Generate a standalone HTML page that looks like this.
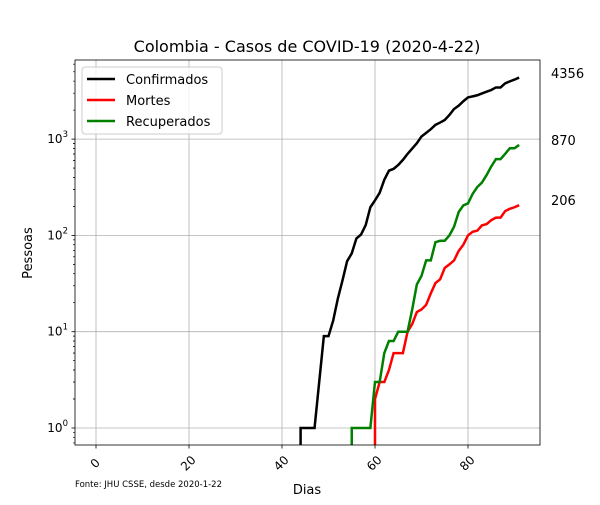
<!DOCTYPE html>
<html><head><meta charset="utf-8"><style>
body{margin:0;background:#fff;font-family:"Liberation Sans","DejaVu Sans",sans-serif}
svg text{font-family:"DejaVu Sans","Liberation Sans",sans-serif}
</style></head><body>
<svg id="c" width="600" height="500" xmlns="http://www.w3.org/2000/svg"></svg>
<script>
const confDays=[43,44,45,46,47,48,49,50,51,52,53,54,55,56,57,58,59,60,61,62,63,64,65,66,67,68,69,70,71,72,73,74,75,76,77,78,79,80,81,82,83,84,85,86,87,88,89,90,91];
const confVals=[0,1,1,1,1,3,9,9,13,22,34,54,65,93,102,128,196,231,277,378,470,491,539,608,702,798,906,1065,1161,1267,1406,1485,1579,1780,2054,2223,2473,2709,2776,2852,2979,3105,3233,3439,3439,3792,3977,4149,4356];
const deathDays=[59,60,61,62,63,64,65,66,67,68,69,70,71,72,73,74,75,76,77,78,79,80,81,82,83,84,85,86,87,88,89,90,91];
const deathVals=[0,2,3,3,4,6,6,6,10,12,16,17,19,25,32,35,46,50,55,69,80,100,109,112,127,131,144,153,153,179,189,196,206];
const recDays=[54,55,56,57,58,59,60,61,62,63,64,65,66,67,68,69,70,71,72,73,74,75,76,77,78,79,80,81,82,83,84,85,86,87,88,89,90,91];
const recVals=[0,1,1,1,1,1,3,3,6,8,8,10,10,10,17,31,38,55,55,85,88,88,100,123,175,205,215,270,318,354,423,520,619,619,704,804,804,870];
const xTicks=[0,20,40,60,80];
const yTicks=[0,1,2,3];
const endLabels=["4356","870","206"];
const L=75,R=540,T=60,B=445;
const X=d=>96+(d)*4.65;
const Y=v=>v<=0?B+20:428-Math.log10(v)*96.3;
const s=document.getElementById('c');const NS='http://www.w3.org/2000/svg';
function el(t,a,p){const e=document.createElementNS(NS,t);for(const k in a)e.setAttribute(k,a[k]);(p||s).appendChild(e);return e;}
const defs=el('defs',{});const cp=el('clipPath',{id:'cp'},defs);el('rect',{x:L,y:T,width:R-L,height:B-T},cp);
xTicks.forEach(t=>{const g=el('line',{x1:X(t),x2:X(t),y1:T,y2:B,stroke:'#b0b0b0','stroke-width':0.8});


el('line',{x1:X(t),x2:X(t),y1:B,y2:B+3.5,stroke:'#000','stroke-width':0.8});
const tx=el('text',{x:X(t),y:B+22,'font-size':12,'text-anchor':'middle',transform:`rotate(-45 ${X(t)} ${B+19})`});tx.textContent=t;

});
yTicks.forEach(t=>{const y=Y(Math.pow(10,t));const g=el('line',{x1:L,x2:R,y1:y,y2:y,stroke:'#b0b0b0','stroke-width':0.8});


el('line',{x1:L-3.5,x2:L,y1:y,y2:y,stroke:'#000','stroke-width':0.8});
const tx=el('text',{x:L-7,y:y+4,'font-size':12,'text-anchor':'end'});tx.innerHTML='10<tspan dy="-6" font-size="8.5">'+t+'</tspan>';


for(let m=2;m<10;m++){const yy=Y(m*Math.pow(10,t-1));if(yy<B&&yy>T)el('line',{x1:L-2,x2:L,y1:yy,y2:yy,stroke:'#000','stroke-width':0.6});}
for(let m=2;m<10;m++){const yy=Y(m*Math.pow(10,t));if(yy<B&&yy>T)el('line',{x1:L-2,x2:L,y1:yy,y2:yy,stroke:'#000','stroke-width':0.6});}});
function series(days,vals,color,name){
const pts=days.map((d,i)=>{let dd=d;if(vals[i]<=0){let j=i;while(j<vals.length&&vals[j]<=0)j++;if(j<days.length)dd=days[j];}return X(dd)+','+Y(vals[i]);});
const p=el('polyline',{points:pts.join(' '),fill:'none',stroke:color,'stroke-width':2.5,'clip-path':'url(#cp)'});

}
series(confDays,confVals,'#000','confirmed-line');
series(deathDays,deathVals,'#ff0000','deaths-line');
series(recDays,recVals,'#008000','recovered-line');
const fr=el('rect',{x:L,y:T,width:R-L,height:B-T,fill:'none',stroke:'#000','stroke-width':0.8});


[[73,0],[140,1],[200,2]].forEach(([y,i])=>{const t=el('text',{x:551,y:y+5,'font-size':13});t.textContent=endLabels[i];

});
const ti=el('text',{x:307,y:52,'font-size':16,'text-anchor':'middle'});ti.textContent='Colombia - Casos de COVID-19 (2020-4-22)';


const xl=el('text',{x:307,y:494,'font-size':13,'text-anchor':'middle'});xl.textContent='Dias';


const yl=el('text',{x:32,y:253,'font-size':13,'text-anchor':'middle',transform:'rotate(-90 32 253)'});yl.textContent='Pessoas';


const fn=el('text',{x:75,y:487,'font-size':8.5});fn.textContent='Fonte: JHU CSSE, desde 2020-1-22';


const lg=el('g',{});


el('rect',{x:82,y:67,width:140,height:67,rx:3,fill:'#fff','fill-opacity':0.8,stroke:'#ccc'},lg);
[['Confirmados','#000',79],['Mortes','#ff0000',100],['Recuperados','#008000',121]].forEach(([n,c,y])=>{
el('line',{x1:87,x2:115,y1:y,y2:y,stroke:c,'stroke-width':2.5},lg);
const t=el('text',{x:126,y:y+5,'font-size':13},lg);t.textContent=n;

});
</script>
</body></html>
